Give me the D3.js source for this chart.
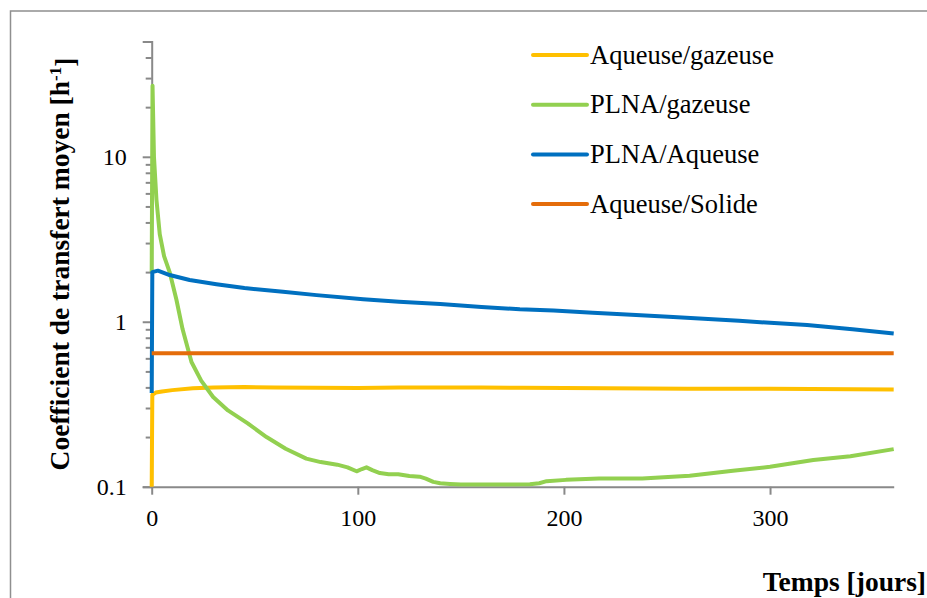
<!DOCTYPE html>
<html lang="fr">
<head>
<meta charset="utf-8">
<title>Coefficient de transfert moyen</title>
<style type="text/css">
body {
  margin: 0;
  background: white;
}
svg {
  display: block;
}
.axis line, .axis path {
  stroke: #898989;
  stroke-width: 2px;
}
.series {
  fill: none;
  stroke-width: 4px;
  stroke-linejoin: round;
}
</style>
</head>
<body>
<svg width="927" height="598"></svg>
<script src="https://cdn.jsdelivr.net/npm/d3@7"></script>
<script>
// series names, in drawing order
var seriesNames = ["Aqueuse/gazeuse", "PLNA/gazeuse", "PLNA/Aqueuse", "Aqueuse/Solide"];
var seriesColors = ["#FFC000", "#92D050", "#0070C0", "#E46C0A"];

// Aqueuse/gazeuse
var aqGazDays = [0, 0.3, 2, 5, 10, 20, 30, 45, 60, 80, 100, 120, 140, 160, 180, 200, 220, 240, 260, 280, 300, 320, 340, 360];
var aqGazVals = [0.1, 0.36, 0.372, 0.378, 0.385, 0.395, 0.400, 0.402, 0.400, 0.398, 0.397, 0.399, 0.400, 0.399, 0.398, 0.396, 0.395, 0.394, 0.393, 0.392, 0.392, 0.391, 0.390, 0.389];

// PLNA/gazeuse
var plnaGazDays = [0, 0.4, 1.1, 2.3, 3.9, 6, 8.7, 12, 15, 19.3, 24, 29.8, 37, 46.6, 55.7, 65, 75, 82, 90, 95, 99.4, 102, 104.2, 107, 110.7, 115, 119.6, 125, 130, 133, 136.6, 140, 144.7, 150, 159, 172, 183.5, 188, 191.6, 201, 217, 238, 261, 282, 300, 321, 339, 360];
var plnaGazVals = [2.0, 27, 10, 5.5, 3.4, 2.5, 2.0, 1.36, 0.9, 0.57, 0.44, 0.35, 0.29, 0.242, 0.2, 0.17, 0.148, 0.141, 0.136, 0.131, 0.124, 0.128, 0.131, 0.126, 0.121, 0.119, 0.119, 0.116, 0.115, 0.112, 0.107, 0.105, 0.104, 0.103, 0.103, 0.103, 0.1035, 0.105, 0.108, 0.110, 0.112, 0.112, 0.1165, 0.125, 0.132, 0.145, 0.153, 0.169];

// PLNA/Aqueuse
var plnaAqDays = [0, 0.3, 3, 8.7, 18.4, 31.4, 45, 63.7, 80, 102.6, 120, 140, 160, 178.6, 195, 214, 235, 253, 270, 285, 300, 318, 340, 360];
var plnaAqVals = [0.37, 2.0, 2.04, 1.92, 1.79, 1.69, 1.6, 1.52, 1.45, 1.37, 1.32, 1.28, 1.23, 1.19, 1.17, 1.135, 1.1, 1.07, 1.04, 1.014, 0.985, 0.955, 0.9, 0.85];

// Aqueuse/Solide
var aqSolDays = [0, 360];
var aqSolVals = [0.645, 0.645];

var xTicks = [0, 100, 200, 300];
var yTicks = [0.1, 1, 10];
var yMinorTicks = [0.2, 0.3, 0.4, 0.5, 0.6, 0.7, 0.8, 0.9, 2, 3, 4, 5, 6, 7, 8, 9, 20, 30, 40, 50];

var serif = "'Liberation Serif', 'DejaVu Serif', 'Times New Roman', Times, serif";

var svg = d3.select("svg").attr("font-family", serif);

var seriesData = [
  d3.zip(aqGazDays, aqGazVals),
  d3.zip(plnaGazDays, plnaGazVals),
  d3.zip(plnaAqDays, plnaAqVals),
  d3.zip(aqSolDays, aqSolVals)
];

var x = d3.scaleLinear().domain([0, 360]).range([151.7, 893.7]);
var y = d3.scaleLog().domain([0.1, 50]).range([486.7, 41.5]);

// outer chart border
svg.append("rect")
    .attr("x", 10.5).attr("y", 11)
    .attr("width", 940).attr("height", 620)
    .attr("fill", "none")
    .attr("stroke", "#8f8f8f")
    .attr("stroke-width", 1.5);

// y axis, log scale, major + minor ticks
var yAxis = svg.append("g").attr("class", "axis")
    .attr("transform", "translate(" + x(0) + ",0)")
    .call(d3.axisLeft(y).tickValues(yTicks).tickSize(9).tickPadding(16)
        .tickFormat(function(d) { return d < 1 ? d3.format(".1f")(d) : d3.format("d")(d); }));
yAxis.attr("font-family", serif).attr("font-size", 24);
yAxis.selectAll("text").attr("dy", "0.32em").attr("fill", "#000");

svg.append("g").attr("class", "axis")
    .attr("transform", "translate(" + x(0) + ",0)")
    .call(d3.axisLeft(y).tickValues(yMinorTicks).tickSize(6).tickFormat(""))
    .select(".domain").remove();

var xAxis = svg.append("g").attr("class", "axis")
    .attr("transform", "translate(0," + y(0.1) + ")")
    .call(d3.axisBottom(x).tickValues(xTicks).tickSize(8).tickSizeOuter(0).tickPadding(14));
xAxis.attr("font-family", serif).attr("font-size", 24);
xAxis.selectAll("text").attr("fill", "#000");

// series lines
var line = d3.line()
    .x(function(d) { return x(d[0]); })
    .y(function(d) { return y(d[1]); });

svg.append("g").selectAll("path")
    .data(seriesData)
    .enter().append("path")
    .attr("class", "series")
    .attr("stroke", function(d, i) { return seriesColors[i]; })
    .attr("d", line);

// legend
var legend = svg.append("g").selectAll("g")
    .data(seriesNames)
    .enter().append("g")
    .attr("transform", function(d, i) { return "translate(533," + (55 + i * 49.7) + ")"; });
legend.append("line")
    .attr("x1", 0).attr("x2", 54)
    .attr("stroke", function(d, i) { return seriesColors[i]; })
    .attr("stroke-width", 4)
    .attr("stroke-linecap", "round");
legend.append("text")
    .attr("x", 57).attr("y", 8.5)
    .attr("font-size", 26.5)
    .text(function(d) { return d; });

// axis titles
var yTitle = svg.append("text")
    .attr("transform", "translate(69,264) rotate(-90)")
    .attr("text-anchor", "middle")
    .attr("font-size", 27.5)
    .attr("font-weight", "bold");
yTitle.append("tspan").text("Coefficient de transfert moyen [h");
yTitle.append("tspan").attr("dy", "-0.45em").attr("font-size", 17).text("-1");
yTitle.append("tspan").attr("dy", "0.45em").text("]");

svg.append("text")
    .attr("x", 926).attr("y", 591)
    .attr("text-anchor", "end")
    .attr("font-size", 27.5)
    .attr("font-weight", "bold")
    .text("Temps [jours]");
</script>
</body>
</html>
